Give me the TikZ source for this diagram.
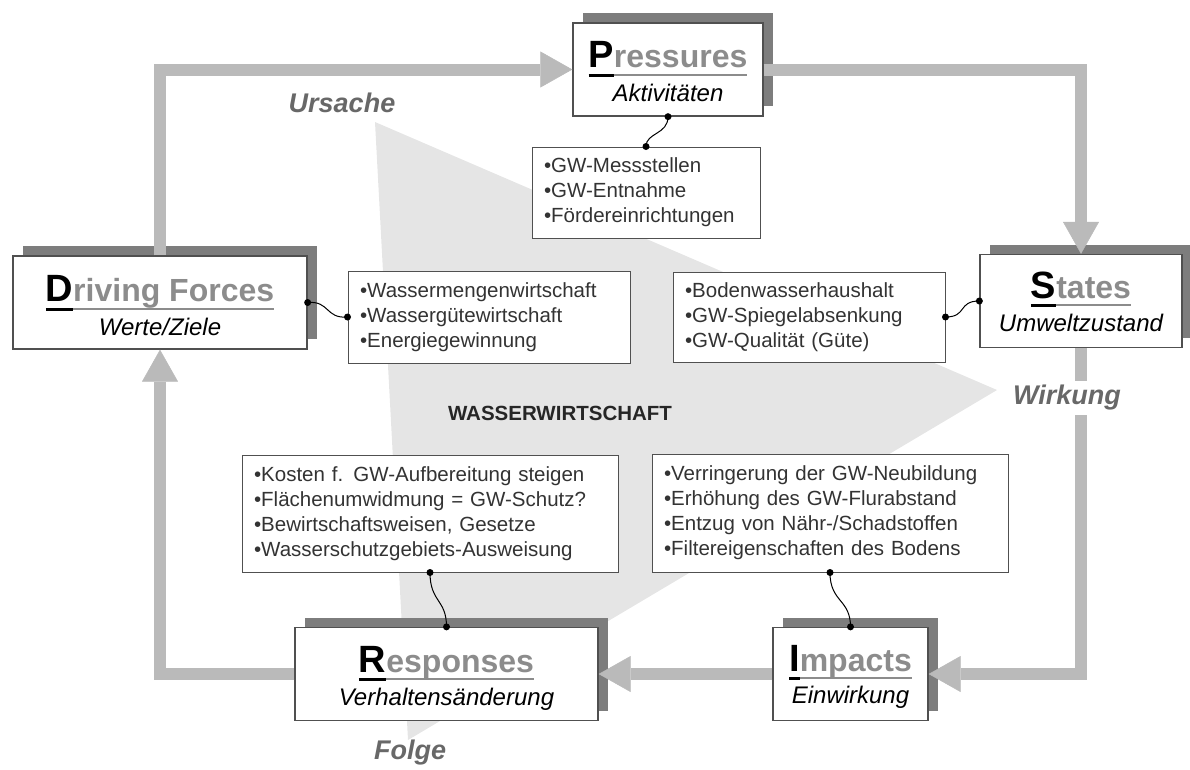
\documentclass[tikz,border=0pt]{standalone}
\usepackage{fontspec}
\setmainfont{Liberation Sans}
\usetikzlibrary{arrows.meta,shadows}
\definecolor{boxline}{HTML}{505050}
\definecolor{shadowgrey}{HTML}{7D7D7D}
\definecolor{headgrey}{HTML}{8C8C8C}
\definecolor{pipegrey}{HTML}{BABABA}
\definecolor{fieldgrey}{HTML}{E5E5E5}
\definecolor{labelgrey}{HTML}{686868}
\definecolor{listtext}{HTML}{333333}
\newcommand{\dpsirhead}[2]{%
  \setbox0=\hbox{\fontsize{38}{40}\selectfont #1}%
  \rlap{\rule[-9pt]{\wd0}{3pt}}\box0%
  \setbox0=\hbox{\color{headgrey}#2}%
  \rlap{\color{headgrey}\rule[-8pt]{\wd0}{2pt}}\box0}
\newcommand{\itm}{\textbullet}
\tikzset{
  dpsirbox/.style={draw=boxline, line width=1.3pt, fill=white, minimum height=93pt,
    general shadow={fill=shadowgrey, shadow xshift=10pt, shadow yshift=10pt}},
  headline/.style={anchor=base, inner sep=0pt, font=\bfseries\fontsize{32}{36}\selectfont},
  subline/.style={inner sep=0pt, font=\itshape\fontsize{24}{28}\selectfont},
  listbox/.style={draw=boxline, line width=1pt, fill=white, align=left, inner xsep=12pt,
    text=listtext, font=\fontsize{20.5}{25}\selectfont},
  pipe/.style={line width=12pt, draw=pipegrey,
    -{Triangle[width=36pt, length=32pt, line width=0.5pt]}},
  link/.style={line width=1pt},
  flowlabel/.style={text=labelgrey, font=\bfseries\itshape\fontsize{27}{30}\selectfont}
}
\begin{document}
\begin{tikzpicture}[x=1pt, y=-1pt]
  \useasboundingbox (0,0) rectangle (1190,769);
  \fill[fieldgrey] (375,122) -- (997,390) -- (408,740) -- cycle;

  \node[dpsirbox, minimum width=190pt] (P) at (668,69.5) {};
  \node[dpsirbox, minimum width=294pt] (D) at (160,302.5) {};
  \node[dpsirbox, minimum width=202pt] (S) at (1081,301) {};
  \node[dpsirbox, minimum width=303pt] (R) at (446.5,674) {};
  \node[dpsirbox, minimum width=155pt] (I) at (850.5,674) {};

  \node[headline] (Phead) at ([yshift=2pt]P.center) {\dpsirhead{P}{ressures}};
  \node[subline] (Psub) at ([yshift=-23pt]P.center) {Aktivitäten};
  \node[headline] (Dhead) at ([yshift=1pt]D.center) {\dpsirhead{D}{riving Forces}};
  \node[subline] (Dsub) at ([yshift=-24pt]D.center) {Werte/Ziele};
  \node[headline] (Shead) at ([yshift=3pt]S.center) {\dpsirhead{S}{tates}};
  \node[subline] (Ssub) at ([yshift=-22pt]S.center) {Umweltzustand};
  \node[headline] (Rhead) at ([yshift=2pt]R.center) {\dpsirhead{R}{esponses}};
  \node[subline] (Rsub) at ([yshift=-25pt]R.center) {Verhaltensänderung};
  \node[headline] (Ihead) at ([yshift=3pt]I.center) {\dpsirhead{I}{mpacts}};
  \node[subline] (Isub) at ([yshift=-23pt]I.center) {Einwirkung};

  \node[listbox, text width=204pt, minimum height=91pt] (Plist) at (646,192.5)
    {\itm GW-Messstellen\\\itm GW-Entnahme\\\itm Fördereinrichtungen};
  \node[listbox, text width=258pt, minimum height=92pt] (Dlist) at (489,317)
    {\itm Wassermengenwirtschaft\\\itm Wassergütewirtschaft\\\itm Energiegewinnung};
  \node[listbox, text width=248pt, minimum height=90pt] (Slist) at (809,317)
    {\itm Bodenwasserhaushalt\\\itm GW-Spiegelabsenkung\\\itm GW-Qualität (Güte)};
  \node[listbox, text width=352pt, minimum height=117pt] (Rlist) at (430,513.5)
    {\itm Kosten f. GW-Aufbereitung steigen\\\itm Flächenumwidmung = GW-Schutz?\\
     \itm Bewirtschaftsweisen, Gesetze\\\itm Wasserschutzgebiets-Ausweisung};
  \node[listbox, text width=332pt, minimum height=118pt] (Ilist) at (830,513)
    {\itm Verringerung der GW-Neubildung\\\itm Erhöhung des GW-Flurabstand\\
     \itm Entzug von Nähr-/Schadstoffen\\\itm Filtereigenschaften des Bodens};

  \node[font=\bfseries\fontsize{20.5}{24}\selectfont, text=black!85] (field) at (560,413) {WASSERWIRTSCHAFT};
  \node[flowlabel] (cause) at (342,103) {Ursache};
  \node[flowlabel] (effect) at (410,753) {Folge};

  \draw[link] (P.south) .. controls +(0,18) and +(0,-14) .. (Plist.north);
  \draw[link] (D.east) .. controls +(22,-2) and +(-22,2) .. (Dlist.west);
  \draw[link] (S.west) .. controls +(-22,0) and +(22,0) .. (Slist.east);
  \draw[link] (Rlist.south) .. controls +(0,30) and +(0,-28) .. (R.north);
  \draw[link] (Ilist.south) .. controls +(0,30) and +(0,-28) .. (I.north);
  \foreach \pt in {P.south, Plist.north, D.east, Dlist.west, S.west, Slist.east,
                   Rlist.south, R.north, Ilist.south, I.north}
    \fill (\pt) circle (3.5pt);

  \draw[pipe] (D.north) |- (P.west);
  \draw[pipe] (P.east) -| (S.north);
  \draw[pipe] (S.south) |- (I.east);
  \draw[pipe] (I.west) -- (R.east);
  \draw[pipe] (R.west) -| (D.south);

  \node[flowlabel, fill=white, inner sep=4pt] (impact) at (1067,398) {Wirkung};
\end{tikzpicture}
\end{document}
